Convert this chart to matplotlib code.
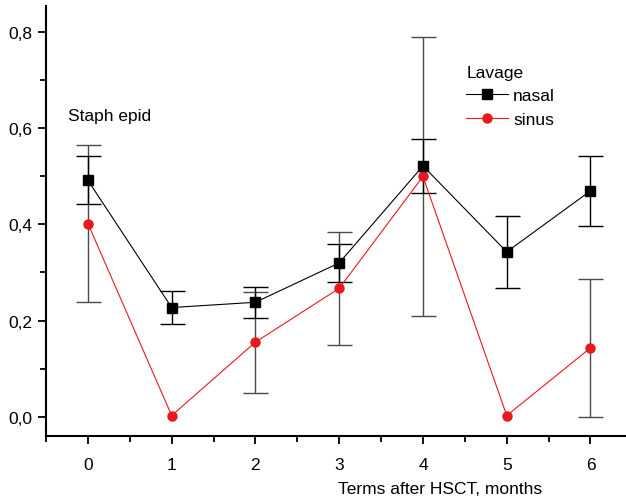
import matplotlib.pyplot as plt
from matplotlib.ticker import MultipleLocator

plt.rcParams['font.family'] = ['Liberation Sans', 'DejaVu Sans']

months = [0, 1, 2, 3, 4, 5, 6]

nasal = [0.492, 0.227, 0.238, 0.320, 0.522, 0.343, 0.470]
nasal_err = [0.050, 0.035, 0.032, 0.040, 0.057, 0.075, 0.073]

sinus = [0.402, 0.002, 0.155, 0.267, 0.500, 0.002, 0.143]
sinus_err = [0.163, 0.0, 0.105, 0.118, 0.290, 0.0, 0.143]

fig = plt.figure(figsize=(6.26, 5.02), dpi=100)
ax = fig.add_axes([0.0735, 0.13, 0.93, 0.856])

# error bars first (skip the zero ones), lines and markers on top
sx = [m for m, e in zip(months, sinus_err) if e > 0]
sy = [v for v, e in zip(sinus, sinus_err) if e > 0]
se = [e for e in sinus_err if e > 0]
ax.errorbar(sx, sy, yerr=se, fmt='none', ecolor='#4a4a4a',
            elinewidth=1, capsize=9, capthick=1, zorder=2)
ax.errorbar(months, nasal, yerr=nasal_err, fmt='none', ecolor='black',
            elinewidth=1, capsize=9, capthick=1, zorder=2)

ax.plot(months, nasal, color='black', lw=0.8, marker='s', ms=6.5,
        mfc='black', mec='black', label='nasal', zorder=4)
ax.plot(months, sinus, color='#e8191c', lw=0.8, marker='o', ms=6.5,
        mfc='#e8191c', mec='#e8191c', label='sinus', zorder=3)

ax.set_xlim(-0.5, 6.45)
ax.set_ylim(-0.04, 0.855)
ax.set_xticks(months)
ax.xaxis.set_minor_locator(MultipleLocator(0.5))
ax.yaxis.set_major_locator(MultipleLocator(0.2))
ax.yaxis.set_minor_locator(MultipleLocator(0.1))
ax.yaxis.set_major_formatter(plt.FuncFormatter(lambda v, p: f'{v:.1f}'.replace('.', ',')))

for s in ['top', 'right']:
    ax.spines[s].set_visible(False)
for s in ['left', 'bottom']:
    ax.spines[s].set_linewidth(1.5)
ax.tick_params(which='major', direction='out', length=6, width=1.3, labelsize=12.5)
ax.tick_params(which='minor', direction='out', length=4, width=1.3)
ax.tick_params(axis='x', pad=9)

fig.text(68 / 626, 1 - 116 / 502, 'Staph epid', fontsize=12.5, va='center')
fig.text(338 / 626, 1 - 490 / 502, 'Terms after HSCT, months',
         fontsize=12.5, ha='left', va='center')

leg = ax.legend(title='Lavage', loc='upper left', bbox_to_anchor=(0.71, 0.88),
                frameon=False, fontsize=12.5, title_fontsize=12.5,
                handlelength=2.4, handletextpad=0.3, labelspacing=0.5,
                borderaxespad=0)
leg._legend_box.align = 'left'
leg._legend_box.sep = 6

fig.savefig('out.png', dpi=100)
